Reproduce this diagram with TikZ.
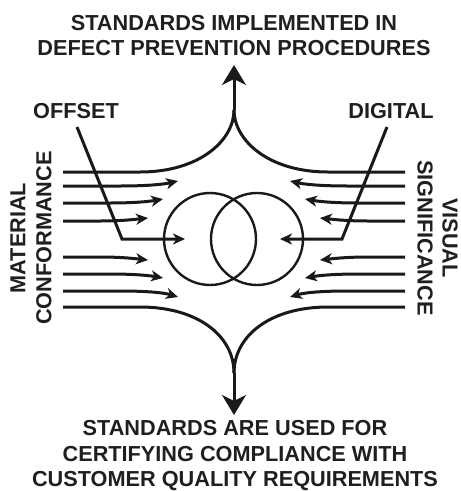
\documentclass[tikz,border=0pt]{standalone}
\usepackage{fontspec}
\setmainfont{Liberation Sans}
\usetikzlibrary{arrows.meta}
\begin{document}
\begin{tikzpicture}[x=1pt,y=-1pt,
  ink/.style={line width=3pt,draw=black!90},
  flow/.style={ink,-{Stealth[length=12pt,width=11pt,inset=3.5pt]}},
  mainarrow/.style={ink,-{Stealth[length=20pt,width=24pt,inset=6pt]}},
  ring/.style={line width=2.4pt,draw=black!90},
  lbl/.style={font=\fontsize{21.7}{25}\selectfont\bfseries,text=black!88,align=center,inner sep=0pt}]
\useasboundingbox (0,0) rectangle (461,491);
% texts
\node[lbl] (top) at (234,36) {STANDARDS IMPLEMENTED IN\\DEFECT PREVENTION PROCEDURES};
\node[lbl,font=\fontsize{21.7}{25.5}\selectfont\bfseries] (bot) at (235,456) {STANDARDS ARE USED FOR\\CERTIFYING COMPLIANCE WITH\\CUSTOMER QUALITY REQUIREMENTS};
\node[lbl] (offset) at (76,111) {OFFSET};
\node[lbl] (digital) at (391,111) {DIGITAL};
\node[lbl,rotate=90,font=\fontsize{21.7}{26}\selectfont\bfseries] (mat) at (31,238) {MATERIAL\\CONFORMANCE};
\node[lbl,rotate=-90] (vis) at (437.5,238) {VISUAL\\SIGNIFICANCE};
% circles
\node[ring,circle,minimum size=92pt,inner sep=0pt] (cl) at (210,239) {};
\node[ring,circle,minimum size=92pt,inner sep=0pt] (cr) at (257,239) {};
% coordinates
\coordinate (cusptop) at (234,110);
\coordinate (tiptop) at (234,65);
\coordinate (cuspbot) at (234,373);
\coordinate (tipbot) at (234,415);
% main arrows
\draw[mainarrow] (cusptop) -- (tiptop);
\draw[mainarrow] (cuspbot) -- (tipbot);
% outer curves
\draw[ink] (63,172) -- (140,172) .. controls (200,172) and (234,140) .. (cusptop);
\draw[ink] (405,172) -- (328,172) .. controls (268,172) and (234,140) .. (cusptop);
\draw[ink] (63,307) -- (140,307) .. controls (198,307) and (234,336) .. (cuspbot);
\draw[ink] (405,307) -- (328,307) .. controls (270,307) and (234,336) .. (cuspbot);
% left flows
\draw[flow] (63,186) -- (120,186) .. controls (150,186) and (165,184) .. (178,181);
\draw[flow] (63,203) -- (110,203) .. controls (138,203) and (152,201) .. (163,199);
\draw[flow] (63,221) -- (100,221) .. controls (124,221) and (138,219) .. (148,218);
\draw[flow] (63,257) -- (100,257) .. controls (124,257) and (138,259) .. (148,260);
\draw[flow] (63,274) -- (110,274) .. controls (138,274) and (152,276) .. (163,278);
\draw[flow] (63,291) -- (120,291) .. controls (150,291) and (165,293) .. (178,297);
% right flows
\draw[flow] (405,186) -- (348,186) .. controls (318,186) and (303,184) .. (290,181);
\draw[flow] (405,203) -- (358,203) .. controls (330,203) and (316,201) .. (305,199);
\draw[flow] (405,221) -- (368,221) .. controls (344,221) and (330,219) .. (320,218);
\draw[flow] (405,257) -- (368,257) .. controls (344,257) and (330,259) .. (320,260);
\draw[flow] (405,274) -- (358,274) .. controls (330,274) and (316,276) .. (305,278);
\draw[flow] (405,291) -- (348,291) .. controls (318,291) and (303,293) .. (290,297);
% offset / digital
\coordinate (ofs) at (77,127);
\coordinate (ofk) at (122,239);
\coordinate (dgs) at (387,127);
\coordinate (dgk) at (342,239);
\draw[flow,line join=miter] (ofs) -- (ofk) -- (185,239);
\draw[flow,line join=miter] (dgs) -- (dgk) -- (280,239);
\end{tikzpicture}
\end{document}
